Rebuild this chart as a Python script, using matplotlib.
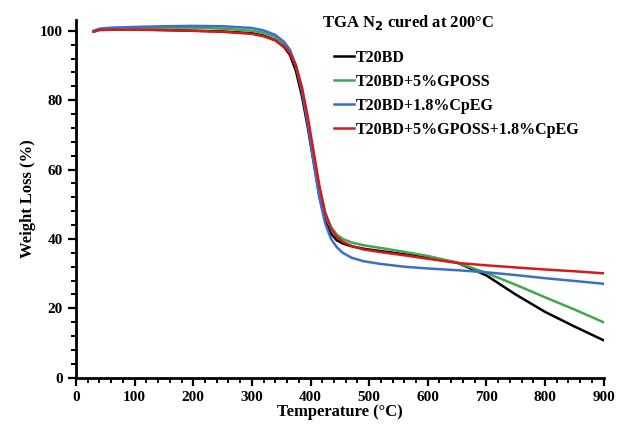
import numpy as np
import matplotlib
matplotlib.use("Agg")
import matplotlib.pyplot as plt
from matplotlib.ticker import MultipleLocator

# temperaturas comunes para las cuatro curvas (°C)
temp = [30, 40, 60, 100, 150, 200, 250, 300, 320, 340, 355, 365, 375, 385, 395, 405,
        415, 425, 435, 445, 455, 470, 490, 520, 560, 600, 650, 700, 750, 800, 850, 900]

t20bd = [99.8, 100.3, 100.4, 100.4, 100.2, 100.0, 99.8, 99.3, 98.6, 97.3, 95.3, 93.0, 88.5, 81.5, 72.5, 62.5,
         52.5, 45.2, 41.5, 39.6, 38.7, 37.9, 37.2, 36.5, 35.6, 34.6, 33.2, 29.5, 24.0, 19.0, 14.8, 10.8]
t20bd_gposs = [99.9, 100.4, 100.6, 100.8, 100.9, 100.9, 100.6, 100.0, 99.4, 98.2, 96.3, 94.0, 90.0, 83.5, 74.5, 64.5,
               54.5, 47.5, 43.5, 41.2, 40.0, 39.0, 38.2, 37.4, 36.3, 35.1, 33.2, 30.2, 26.8, 23.2, 19.7, 16.0]
t20bd_cpeg = [100.0, 100.6, 100.9, 101.1, 101.3, 101.4, 101.3, 100.8, 100.1, 98.8, 96.8, 94.5, 90.0, 83.0, 73.5, 62.5,
              52.0, 44.5, 40.0, 37.6, 36.0, 34.6, 33.6, 32.8, 32.0, 31.5, 31.0, 30.4, 29.6, 28.7, 27.9, 27.1]
t20bd_gposs_cpeg = [99.7, 100.2, 100.3, 100.3, 100.2, 100.0, 99.7, 99.1, 98.4, 97.2, 95.5, 93.5, 90.0, 84.0, 75.5, 65.5,
                    55.5, 47.5, 43.0, 40.5, 39.2, 38.0, 37.0, 36.2, 35.3, 34.3, 33.1, 32.4, 31.8, 31.2, 30.7, 30.1]

series = [
    ("T20BD", t20bd, "black"),
    ("T20BD+5%GPOSS", t20bd_gposs, "#3fa84a"),
    ("T20BD+1.8%CpEG", t20bd_cpeg, "#3b6fcb"),
    ("T20BD+5%GPOSS+1.8%CpEG", t20bd_gposs_cpeg, "#d7191c"),
]

plt.rcParams['font.family'] = ['Liberation Serif', 'DejaVu Serif']
plt.rcParams['font.weight'] = 'bold'

fig = plt.figure(figsize=(6.2, 4.24), dpi=100)
ax = fig.add_axes([0.1226, 0.109, 0.851, 0.843])

for nombre, valores, color in series:
    ax.plot(temp, valores, color=color, lw=1.8, label=nombre, solid_joinstyle='round')

ax.set_xlim(0, 900)
ax.set_ylim(0, 103)
ax.xaxis.set_major_locator(MultipleLocator(100))
ax.xaxis.set_minor_locator(MultipleLocator(20))
ax.yaxis.set_major_locator(MultipleLocator(20))
ax.yaxis.set_minor_locator(MultipleLocator(4))
ax.tick_params(which='major', length=6, width=1.6, labelsize=11, direction='out')
ax.tick_params(which='minor', length=3.5, width=1.4, direction='out')
for lab in ax.get_xticklabels() + ax.get_yticklabels():
    lab.set_fontweight('bold')

for s in ['top', 'right']:
    ax.spines[s].set_visible(False)
for s in ['left', 'bottom']:
    ax.spines[s].set_linewidth(2)

ax.set_xlabel("Temperature (°C)", fontsize=12, fontweight='bold', labelpad=0)
ax.set_ylabel("Weight Loss (%)", fontsize=12, fontweight='bold', labelpad=3)

fig.text(0.658, 0.948, "TGA N$_2$ cured at 200°C", fontsize=12, fontweight='bold',
         ha='center', va='center')

ax.legend(loc='upper left', bbox_to_anchor=(0.538, 0.882), bbox_transform=fig.transFigure,
          frameon=False, handlelength=1.25, handletextpad=0.15,
          labelspacing=0.5, borderpad=0, borderaxespad=0,
          prop={'weight': 'bold', 'size': 11.5})

fig.savefig("out.png", dpi=100)
